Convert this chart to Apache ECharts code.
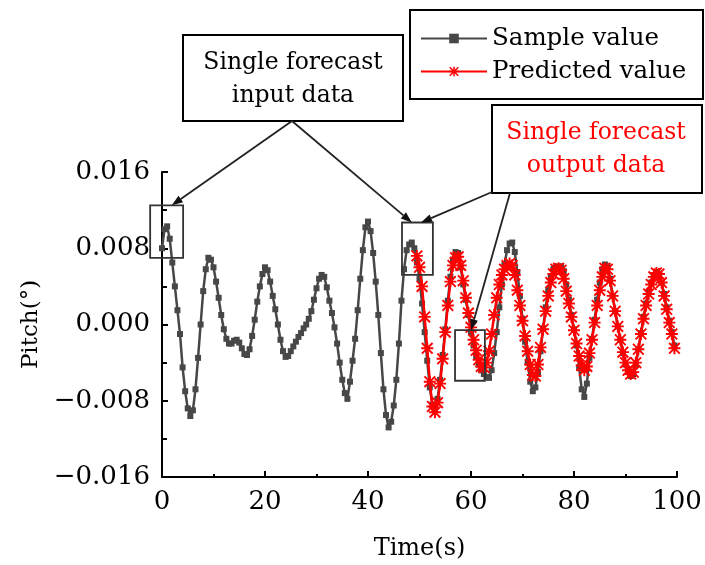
<!DOCTYPE html>
<html><head><meta charset="utf-8">
<script src="https://cdn.jsdelivr.net/npm/echarts@6/dist/echarts.min.js"></script>
<style>html,body{margin:0;padding:0;background:#fff}#c{width:705px;height:565px}</style>
</head><body><div id="c"></div>
<script>
const SERIF = 'DejaVu Serif';
const xMin = 0, xMax = 100, xInterval = 20;
const yMin = -0.016, yMax = 0.016, yInterval = 0.008;
const sampleStart = 0, sampleStep = 0.5;
const sampleValues = [
  0.0080, 0.0100, 0.0103, 0.0090, 0.0065, 0.0040, 0.0015, -0.0010, -0.0045, -0.0070,
  -0.0088, -0.0096, -0.0090, -0.0068, -0.0035, 0.0000, 0.0035, 0.0058, 0.0070, 0.0068,
  0.0060, 0.0045, 0.0028, 0.0010, -0.0005, -0.0015, -0.0020, -0.0020, -0.0017, -0.0016,
  -0.0019, -0.0025, -0.0031, -0.0032, -0.0026, -0.0012, 0.0005, 0.0024, 0.0040, 0.0053,
  0.0060, 0.0057, 0.0045, 0.0030, 0.0016, 0.0000, -0.0016, -0.0028, -0.0034, -0.0033,
  -0.0028, -0.0023, -0.0018, -0.0013, -0.0009, -0.0004, 0.0000, 0.0006, 0.0014, 0.0026,
  0.0038, 0.0048, 0.0052, 0.0050, 0.0039, 0.0025, 0.0012, -0.0003, -0.0020, -0.0040,
  -0.0058, -0.0072, -0.0078, -0.0060, -0.0038, -0.0015, 0.0015, 0.0048, 0.0078, 0.0102,
  0.0108, 0.0098, 0.0075, 0.0045, 0.0010, -0.0030, -0.0068, -0.0095, -0.0108, -0.0102,
  -0.0085, -0.0058, -0.0020, 0.0025, 0.0058, 0.0078, 0.0084, 0.0086, 0.0080, 0.0065,
  0.0048, 0.0022, -0.0008, -0.0038, -0.0066, -0.0084, -0.0089, -0.0078, -0.0058, -0.0032,
  -0.0005, 0.0025, 0.0050, 0.0068, 0.0076, 0.0075, 0.0060, 0.0042, 0.0026, 0.0010,
  -0.0008, -0.0022, -0.0033, -0.0042, -0.0048, -0.0052, -0.0055, -0.0056, -0.0048, -0.0030,
  -0.0008, 0.0018, 0.0042, 0.0063, 0.0078, 0.0085, 0.0086, 0.0076, 0.0055, 0.0030,
  0.0006, -0.0018, -0.0040, -0.0060, -0.0070, -0.0066, -0.0050, -0.0028, -0.0004, 0.0018,
  0.0036, 0.0050, 0.0058, 0.0060, 0.0061, 0.0061, 0.0056, 0.0042, 0.0026, 0.0010,
  -0.0005, -0.0022, -0.0045, -0.0068, -0.0076, -0.0062, -0.0035, -0.0015, 0.0005, 0.0026,
  0.0044, 0.0058, 0.0063, 0.0061, 0.0048, 0.0030, 0.0014, -0.0002, -0.0016, -0.0030,
  -0.0042, -0.0050, -0.0054, -0.0052, -0.0042, -0.0026, -0.0009, 0.0008, 0.0022, 0.0034,
  0.0044, 0.0051, 0.0055, 0.0053, 0.0044, 0.0032, 0.0018, 0.0004, -0.0008, -0.0022
];
const predictedStart = 49.5, predictedStep = 0.5;
const predictedValues = [
  0.0072,
  0.0060, 0.0040, 0.0008, -0.0025, -0.0060, -0.0086, -0.0092, -0.0082, -0.0062, -0.0036,
  -0.0008, 0.0020, 0.0045, 0.0062, 0.0070, 0.0071, 0.0062, 0.0046, 0.0028, 0.0012,
  -0.0003, -0.0016, -0.0027, -0.0037, -0.0044, -0.0045, -0.0040, -0.0028, -0.0010, 0.0010,
  0.0028, 0.0042, 0.0052, 0.0058, 0.0062, 0.0064, 0.0062, 0.0052, 0.0036, 0.0020,
  0.0004, -0.0012, -0.0028, -0.0042, -0.0053, -0.0054, -0.0042, -0.0024, -0.0005, 0.0014,
  0.0030, 0.0044, 0.0053, 0.0058, 0.0059, 0.0057, 0.0048, 0.0035, 0.0022, 0.0008,
  -0.0006, -0.0020, -0.0033, -0.0043, -0.0048, -0.0044, -0.0030, -0.0016, 0.0002, 0.0020,
  0.0036, 0.0050, 0.0059, 0.0058, 0.0046, 0.0030, 0.0014, -0.0002, -0.0016, -0.0029,
  -0.0040, -0.0048, -0.0052, -0.0050, -0.0040, -0.0026, -0.0010, 0.0006, 0.0020, 0.0032,
  0.0042, 0.0050, 0.0054, 0.0053, 0.0044, 0.0030, 0.0016, 0.0002, -0.0010, -0.0025
];
const legendNames = ['Sample value', 'Predicted value'];
const xAxisName = 'Time(s)';
const yAxisName = 'Pitch(\u00B0)';
const inputNote = ['Single forecast', 'input data'];
const outputNote = ['Single forecast', 'output data'];
// highlight boxes [tLeft, vTop, tRight, vBottom]
const highlightBoxes = [[-2.3, 0.0125, 4.1, 0.0070], [46.6, 0.0107, 52.6, 0.0052], [56.9, -0.0006, 62.7, -0.0059]];
// arrow targets in data coords
const inputTargets = [[1.9, 0.0125], [48.5, 0.0107]];
const outputTargets = [[50.3, 0.0107], [60.0, -0.0006]];

const samplePairs = sampleValues.map((v, i) => [sampleStart + i * sampleStep, v]);
const predictedPairs = predictedValues.map((v, i) => [predictedStart + i * predictedStep, v]);

const asterisk = 'path://M4.2 0h1.6v10h-1.6z M0 4.2h10v1.6h-10z M1.1 0L10 8.9L8.9 10L0 1.1z M8.9 0L10 1.1L1.1 10L0 8.9z';

const chart = echarts.init(document.getElementById('c'), null, {renderer: 'canvas'});
const fmtY = v => (v < -1e-9 ? '\u2212' : '') + Math.abs(v).toFixed(3);
const noteFont = '23.5px "DejaVu Serif"';
chart.setOption({
  animation: false,
  backgroundColor: '#fff',
  grid: {left: 162, right: 28, top: 172, bottom: 88, containLabel: false, outerBoundsMode: 'none'},
  legend: {
    data: legendNames, orient: 'vertical', left: 420, top: 26, itemWidth: 66, itemHeight: 12, itemGap: 8,
    textStyle: {fontFamily: SERIF, fontSize: 24.5, color: '#000'}, padding: 0
  },
  xAxis: {
    type: 'value', min: xMin, max: xMax, interval: xInterval,
    name: xAxisName, nameLocation: 'middle', nameGap: 60,
    nameTextStyle: {fontFamily: SERIF, fontSize: 24, color: '#000'},
    axisLine: {onZero: false, lineStyle: {color: '#000', width: 2}},
    axisTick: {inside: true, length: 6, lineStyle: {color: '#000', width: 2}},
    minorTick: {show: true, splitNumber: 2, length: 3, lineStyle: {color: '#000', width: 2}},
    axisLabel: {fontFamily: SERIF, fontSize: 26, color: '#000', margin: 12},
    splitLine: {show: false}
  },
  yAxis: {
    type: 'value', min: yMin, max: yMax, interval: yInterval,
    name: yAxisName, nameLocation: 'middle', nameGap: 117, nameRotate: 90,
    nameTextStyle: {fontFamily: SERIF, fontSize: 23, color: '#000'},
    axisLine: {show: true, onZero: false, lineStyle: {color: '#000', width: 2}},
    axisTick: {show: true, inside: true, length: 6, lineStyle: {color: '#000', width: 2}},
    minorTick: {show: true, splitNumber: 2, length: 5, lineStyle: {color: '#000', width: 2}},
    axisLabel: {fontFamily: SERIF, fontSize: 26, color: '#000', margin: 12, formatter: fmtY},
    splitLine: {show: false}
  },
  series: [
    {name: legendNames[0], type: 'line', data: samplePairs, symbol: 'rect', symbolSize: 6,
     lineStyle: {color: '#474747', width: 2.5}, itemStyle: {color: '#474747'}, z: 2},
    {name: legendNames[1], type: 'line', data: predictedPairs, symbol: asterisk, symbolSize: 12,
     lineStyle: {color: '#ff0000', width: 2.5}, itemStyle: {color: '#ff0000'}, z: 3}
  ]
});

function px(p) { return chart.convertToPixel({gridIndex: 0}, p); }
function arrow(x1, y1, x2, y2) {
  const a = Math.atan2(y2 - y1, x2 - x1), L = 11, W = 4;
  const c = Math.cos(a), s = Math.sin(a);
  const bx = x2 - L * c, by = y2 - L * s;
  return [
    {type: 'line', shape: {x1, y1, x2: bx, y2: by}, style: {stroke: '#222', lineWidth: 1.8}, z: 20},
    {type: 'polygon', shape: {points: [[x2, y2], [bx - W * s, by + W * c], [bx + W * s, by - W * c]]}, style: {fill: '#111'}, z: 20}
  ];
}
const g = [];
highlightBoxes.forEach(b => {
  const p1 = px([b[0], b[1]]), p2 = px([b[2], b[3]]);
  g.push({type: 'rect', shape: {x: p1[0], y: p1[1], width: p2[0] - p1[0], height: p2[1] - p1[1]},
    style: {fill: 'none', stroke: '#333', lineWidth: 1.8}, z: 20});
});
// text boxes
g.push({type: 'rect', shape: {x: 410, y: 10, width: 293, height: 89}, style: {fill: 'none', stroke: '#000', lineWidth: 2}, z: 15});
g.push({type: 'rect', shape: {x: 183, y: 35, width: 220, height: 86}, style: {fill: '#fff', stroke: '#000', lineWidth: 2}, z: 15});
g.push({type: 'rect', shape: {x: 492, y: 105, width: 210, height: 88}, style: {fill: '#fff', stroke: '#000', lineWidth: 2}, z: 15});
g.push({type: 'text', x: 293, y: 63, style: {text: inputNote[0], font: noteFont, fill: '#000', align: 'center', verticalAlign: 'middle'}, z: 16});
g.push({type: 'text', x: 293, y: 96, style: {text: inputNote[1], font: noteFont, fill: '#000', align: 'center', verticalAlign: 'middle'}, z: 16});
g.push({type: 'text', x: 596, y: 133, style: {text: outputNote[0], font: noteFont, fill: '#ff0000', align: 'center', verticalAlign: 'middle'}, z: 16});
g.push({type: 'text', x: 596, y: 166, style: {text: outputNote[1], font: noteFont, fill: '#ff0000', align: 'center', verticalAlign: 'middle'}, z: 16});
// arrows
inputTargets.forEach(t => { const p = px(t); g.push(...arrow(292, 121, p[0], p[1])); });
{ const p = px(outputTargets[0]); g.push(...arrow(492, 192, p[0], p[1])); }
{ const p = px(outputTargets[1]); g.push(...arrow(510, 193, p[0], p[1])); }
chart.setOption({graphic: g});
</script></body></html>
